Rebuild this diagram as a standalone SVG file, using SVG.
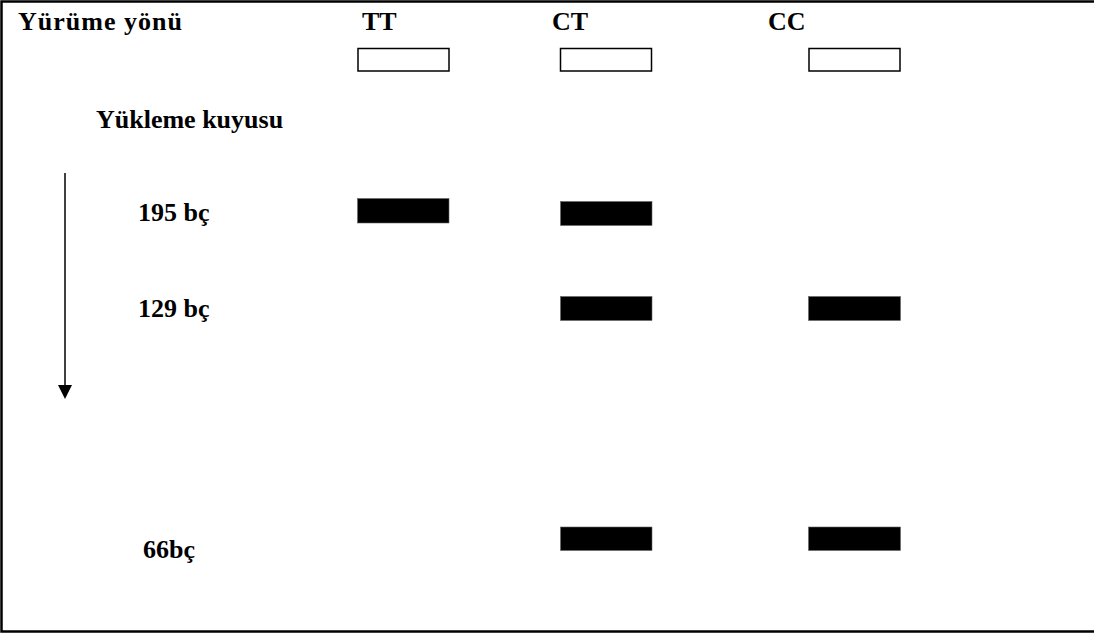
<svg xmlns="http://www.w3.org/2000/svg" width="1094" height="633" viewBox="0 0 1094 633">
<style>
.t{font-family:"Liberation Serif","Times New Roman",serif;font-weight:bold;font-size:26px;fill:#000}
.well{fill:#fff;stroke:#000;stroke-width:1.5}
.band{fill:#000;stroke:#666;stroke-width:0.6}
.frame{stroke:#000;stroke-width:2.5;fill:none}
</style>
<rect width="1094" height="633" fill="#fff"/>
<g id="frame">
<path class="frame" d="M1094,1.5 H1.5 V631.5 H1094"/>
</g>
<g id="labels">
<text class="t" x="18" y="30" textLength="164" lengthAdjust="spacing">Yürüme yönü</text>
<text class="t" x="96" y="128">Yükleme kuyusu</text>
<text class="t" x="138" y="221">195 bç</text>
<text class="t" x="138" y="317">129 bç</text>
<text class="t" x="143" y="558">66bç</text>
</g>
<g id="lane-TT">
<text class="t" x="362" y="30">TT</text>
<rect class="well" x="358" y="48.5" width="91" height="22.5"/>
<rect class="band" x="357.5" y="198.5" width="91.5" height="24.5"/>
</g>
<g id="lane-CT">
<text class="t" x="552" y="30">CT</text>
<rect class="well" x="560.5" y="48.5" width="91" height="22.5"/>
<rect class="band" x="560.5" y="201.5" width="91.5" height="24"/>
<rect class="band" x="560.5" y="296.5" width="91.5" height="24"/>
<rect class="band" x="560.5" y="527" width="91.5" height="23.5"/>
</g>
<g id="lane-CC">
<text class="t" x="768" y="30">CC</text>
<rect class="well" x="809" y="48.5" width="91" height="22.5"/>
<rect class="band" x="808.5" y="296.5" width="92" height="24"/>
<rect class="band" x="808.5" y="527" width="92" height="23.5"/>
</g>
<g id="connectors">
<line x1="65" y1="173" x2="65" y2="386" stroke="#000" stroke-width="1.5"/>
<path d="M58,385 L72,385 L65,399 Z" fill="#000"/>
</g>
</svg>
